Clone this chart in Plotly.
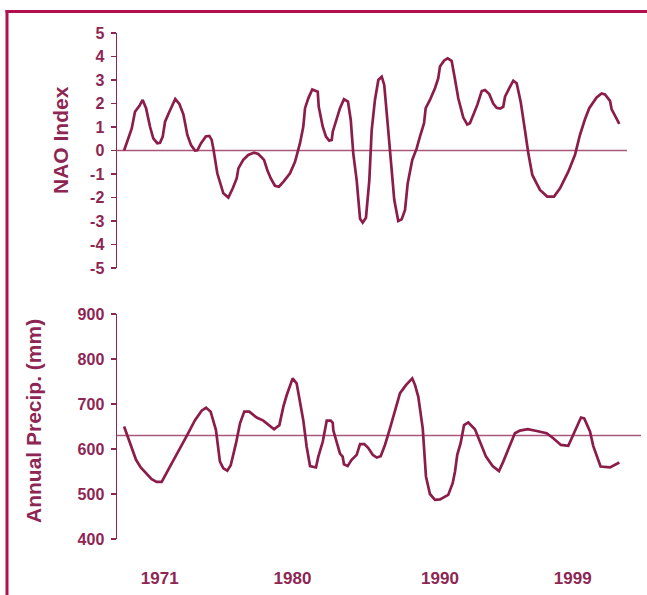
import plotly.graph_objects as go

# ---- data ----
nao_years = [
    1968.58, 1969.10, 1969.32, 1969.61, 1969.84, 1970.07, 1970.34, 1970.56, 1970.83, 1971.02,
    1971.20, 1971.36, 1971.65, 1972.05, 1972.33, 1972.60, 1972.87, 1973.12, 1973.39, 1973.55,
    1973.80, 1974.12, 1974.36, 1974.52, 1974.63, 1974.90, 1975.31, 1975.65, 1975.95, 1976.22,
    1976.33, 1976.66, 1977.00, 1977.39, 1977.68, 1978.07, 1978.29, 1978.52, 1978.81, 1979.08,
    1979.42, 1979.83, 1980.17, 1980.51, 1980.73, 1980.85, 1981.07, 1981.34, 1981.71, 1981.78,
    1982.05, 1982.27, 1982.49, 1982.66, 1982.73, 1983.00, 1983.22, 1983.49, 1983.76, 1983.95,
    1984.12, 1984.35, 1984.58, 1984.76, 1984.98, 1985.21, 1985.37, 1985.59, 1985.82, 1986.05,
    1986.22, 1986.43, 1986.66, 1986.90, 1987.17, 1987.40, 1987.63, 1987.81, 1988.12, 1988.42,
    1988.64, 1988.92, 1989.03, 1989.32, 1989.66, 1989.88, 1990.00, 1990.27, 1990.52, 1990.79,
    1991.00, 1991.24, 1991.58, 1991.85, 1992.03, 1992.26, 1992.53, 1992.83, 1993.05, 1993.34,
    1993.61, 1993.84, 1994.07, 1994.29, 1994.41, 1994.70, 1994.97, 1995.20, 1995.47, 1995.76,
    1995.99, 1996.26, 1996.78, 1997.27, 1997.73, 1998.14, 1998.70, 1999.15, 1999.49, 1999.83,
    2000.12, 2000.62, 2000.96, 2001.19, 2001.53, 2001.64, 2001.91, 2002.16,
]
nao_index = [
    0.00, 0.94, 1.65, 1.89, 2.15, 1.80, 1.01, 0.52, 0.31, 0.33,
    0.59, 1.23, 1.65, 2.19, 1.98, 1.54, 0.66, 0.23, 0.00, 0.01,
    0.31, 0.60, 0.62, 0.45, 0.09, -0.97, -1.82, -2.00, -1.61, -1.18,
    -0.76, -0.40, -0.19, -0.09, -0.15, -0.40, -0.83, -1.18, -1.50, -1.54,
    -1.30, -0.97, -0.48, 0.31, 1.01, 1.80, 2.22, 2.60, 2.50, 1.86,
    1.01, 0.59, 0.42, 0.45, 0.80, 1.30, 1.80, 2.18, 2.08, 1.30,
    -0.12, -1.26, -2.91, -3.07, -2.86, -1.26, 0.87, 2.15, 3.00, 3.14,
    2.79, 1.30, -0.40, -2.10, -3.00, -2.93, -2.53, -1.40, -0.40, 0.09,
    0.59, 1.16, 1.80, 2.15, 2.65, 3.07, 3.57, 3.82, 3.92, 3.82,
    3.10, 2.22, 1.40, 1.11, 1.16, 1.51, 1.94, 2.53, 2.57, 2.40,
    2.00, 1.82, 1.78, 1.86, 2.29, 2.65, 2.97, 2.86, 2.08, 0.87,
    -0.12, -1.04, -1.68, -1.96, -1.96, -1.61, -0.90, -0.19, 0.66, 1.33,
    1.80, 2.26, 2.43, 2.39, 2.11, 1.75, 1.44, 1.13,
]

precip_years = [
    1968.58, 1968.98, 1969.39, 1969.71, 1970.07, 1970.45, 1970.79, 1971.13, 1971.69, 1972.26,
    1972.83, 1973.39, 1973.84, 1974.14, 1974.45, 1974.81, 1975.08, 1975.31, 1975.58, 1975.81,
    1976.17, 1976.44, 1976.73, 1977.07, 1977.57, 1978.02, 1978.43, 1978.75, 1979.11, 1979.38,
    1979.61, 1980.01, 1980.28, 1980.73, 1980.96, 1981.19, 1981.59, 1981.75, 1982.05, 1982.32,
    1982.59, 1982.73, 1982.77, 1983.00, 1983.22, 1983.40, 1983.49, 1983.74, 1984.01, 1984.35,
    1984.58, 1984.87, 1985.14, 1985.44, 1985.71, 1985.98, 1986.27, 1986.61, 1986.95, 1987.29,
    1987.69, 1988.12, 1988.31, 1988.53, 1988.83, 1989.05, 1989.32, 1989.66, 1990.00, 1990.56,
    1990.86, 1991.02, 1991.17, 1991.40, 1991.63, 1991.92, 1992.37, 1992.71, 1993.12, 1993.57,
    1994.00, 1994.29, 1994.70, 1995.08, 1995.42, 1995.95, 1996.56, 1997.23, 1997.68, 1998.20,
    1998.70, 1999.15, 1999.56, 1999.78, 2000.17, 2000.39, 2000.89, 2001.53, 2002.16,
]
precip_mm = [
    650, 613, 576, 559, 546, 533, 527, 527, 561, 594,
    629, 664, 685, 692, 683, 642, 572, 557, 552, 564,
    613, 657, 683, 683, 670, 663, 652, 644, 653, 694,
    720, 757, 746, 664, 605, 562, 559, 583, 616, 663,
    663, 658, 641, 616, 590, 583, 566, 562, 576, 587,
    611, 611, 602, 587, 581, 584, 609, 646, 687, 724,
    742, 757, 742, 716, 646, 539, 500, 487, 488, 498,
    524, 550, 587, 613, 653, 659, 644, 616, 583, 562,
    551, 572, 605, 635, 641, 644, 640, 635, 624, 609,
    607, 642, 670, 668, 639, 607, 561, 559, 570,
]

nao_baseline = [0]
precip_mean = [630]

nao_ticks = [-5, -4, -3, -2, -1, 0, 1, 2, 3, 4, 5]
nao_tick_labels = ["-5", "-4", "-3", "-2", "-1", "0", "1", "2", "3", "4", "5"]
precip_ticks = [400, 500, 600, 700, 800, 900]
year_ticks = [1971, 1980, 1990, 1999]
year_labels = ["1971", "1980", "1990", "1999"]

# ---- style ----
W, H = 647, 595
LINE = "#8C1D4A"
TEXT = "#8E2653"
AXIS = "#8E2653"
REF = "#A9587C"
FRAME = "#B0104E"
FONT = "Liberation Sans, Arial, sans-serif"

X_RANGE = [1968.10, 2003.63]
X_DOM = [117 / W, 641 / W]


def py(px):
    return 1 - px / H


fig = go.Figure()

fig.add_trace(go.Scatter(x=nao_years, y=nao_index, mode="lines",
                         line=dict(color=LINE, width=2.7), xaxis="x", yaxis="y",
                         showlegend=False, hoverinfo="skip"))
fig.add_trace(go.Scatter(x=precip_years, y=precip_mm, mode="lines",
                         line=dict(color=LINE, width=2.7), xaxis="x2", yaxis="y2",
                         showlegend=False, hoverinfo="skip"))

# reference lines
fig.add_shape(type="line", xref="x", yref="y", x0=X_RANGE[0], x1=2002.68,
              y0=nao_baseline[0], y1=nao_baseline[0], line=dict(color=REF, width=1.6), layer="below")
fig.add_shape(type="line", xref="x2", yref="y2", x0=X_RANGE[0], x1=X_RANGE[1],
              y0=precip_mean[0], y1=precip_mean[0], line=dict(color=REF, width=1.6), layer="below")

# frame
fig.add_shape(type="line", xref="paper", yref="paper", x0=7 / W, x1=7 / W,
              y0=py(10), y1=py(600), line=dict(color=FRAME, width=3))
fig.add_shape(type="line", xref="paper", yref="paper", x0=5.5 / W, x1=1.01,
              y0=py(11.5), y1=py(11.5), line=dict(color=FRAME, width=3))

yax_common = dict(
    showline=True, linecolor=AXIS, linewidth=1.5, ticks="outside", ticklen=5,
    tickwidth=1.5, tickcolor=AXIS, showgrid=False, zeroline=False, automargin=False,
    tickfont=dict(family=FONT, size=16, color=TEXT, weight="bold"),
    ticklabelstandoff=3,
)

fig.update_layout(
    width=W, height=H, autosize=False,
    margin=dict(l=0, r=0, t=0, b=0, pad=0),
    paper_bgcolor="white", plot_bgcolor="white",
    xaxis=dict(domain=X_DOM, range=X_RANGE, anchor="y", showline=False, showgrid=False,
               zeroline=False, showticklabels=False, ticks="", automargin=False),
    yaxis=dict(domain=[py(268), py(33)], range=[-5, 5], anchor="x",
               tickvals=nao_ticks, ticktext=nao_tick_labels, **yax_common),
    xaxis2=dict(domain=X_DOM, range=X_RANGE, anchor="y2", showline=False, showgrid=False,
                zeroline=False, ticks="", tickvals=year_ticks, ticktext=year_labels,
                tickfont=dict(family=FONT, size=17, color=TEXT, weight="bold"),
                ticklabelstandoff=27, automargin=False),
    yaxis2=dict(domain=[py(539), py(314)], range=[400, 900], anchor="x2",
                tickvals=precip_ticks, **yax_common),
)

fig.add_annotation(text="NAO Index", xref="paper", yref="paper", x=60 / W, y=py(140),
                   textangle=-90, showarrow=False, xanchor="center", yanchor="middle",
                   font=dict(family=FONT, size=21, color=TEXT, weight="bold"))
fig.add_annotation(text="Annual Precip. (mm)", xref="paper", yref="paper", x=33 / W, y=py(421),
                   textangle=-90, showarrow=False, xanchor="center", yanchor="middle",
                   font=dict(family=FONT, size=21, color=TEXT, weight="bold"))

fig.write_html(
    "out.html",
    config={"displayModeBar": False, "staticPlot": True},
    post_script=(
        "document.documentElement.style.margin='0';"
        "document.documentElement.style.overflow='hidden';"
        "document.body.style.margin='0';document.body.style.overflow='hidden';"
        "var d=document.getElementById('{plot_id}');"
        "d.style.position='fixed';d.style.top='0px';d.style.left='0px';"
    ),
)
